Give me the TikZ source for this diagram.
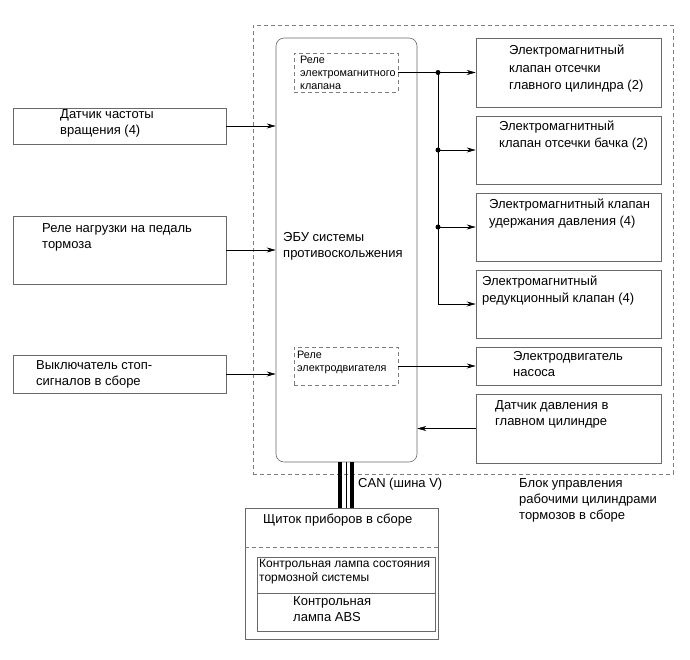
\documentclass[tikz,border=0pt]{standalone}
\usepackage{fontspec}
\setmainfont{Liberation Sans}
\usepackage{tikz}
\usetikzlibrary{arrows.meta, positioning, calc}
\definecolor{LineGray}{RGB}{105, 105, 105}
\definecolor{DashGray}{RGB}{125, 125, 125}

\tikzset{
  blk/.style={draw=LineGray, line width=0.6pt, inner sep=0pt},
  dashblk/.style={draw=DashGray, line width=0.6pt, dash pattern=on 4pt off 3pt, inner sep=0pt},
  lbl/.style={anchor=north west, inner sep=0pt, align=left, font=\fontsize{13}{16.5}\selectfont},
  lblsmall/.style={lbl, font=\fontsize{10.8}{13.3}\selectfont},
  lblmid/.style={lbl, font=\fontsize{12}{14}\selectfont},
  sig/.style={-{Stealth[length=9pt, width=5pt]}, line width=0.5pt},
  junct/.style={circle, fill=black, inner sep=0pt, minimum size=5pt}
}

\begin{document}
\begin{tikzpicture}[x=1pt, y=-1pt]
  \useasboundingbox (0,0) rectangle (690,659);

  % brake unit and ECU
  \node[dashblk, minimum width=420pt, minimum height=449pt] (unit) at (463,249.5) {};
  \node[blk, rounded corners=8pt, minimum width=141pt, minimum height=424pt] (ecu) at (346.5,250) {};
  \node[dashblk, minimum width=104pt, minimum height=39pt] (rel1) at (346,72.5) {};
  \node[dashblk, minimum width=104pt, minimum height=38pt] (rel2) at (346,366) {};

  % sensors on the left
  \node[blk, minimum width=213pt, minimum height=36pt] (spd) at (119.5,126) {};
  \node[blk, minimum width=213pt, minimum height=68pt] (pedal) at (119.5,250) {};
  \node[blk, minimum width=213pt, minimum height=38pt] (stop) at (119.5,374) {};

  % actuators on the right
  \node[blk, minimum width=185pt, minimum height=69pt] (vlv1) at (568.5,72.5) {};
  \node[blk, minimum width=185pt, minimum height=68pt] (vlv2) at (568.5,150) {};
  \node[blk, minimum width=185pt, minimum height=68pt] (vlv3) at (568.5,227) {};
  \node[blk, minimum width=185pt, minimum height=68pt] (vlv4) at (568.5,304) {};
  \node[blk, minimum width=185pt, minimum height=38pt] (pump) at (568.5,366) {};
  \node[blk, minimum width=185pt, minimum height=69pt] (prs) at (568.5,428.5) {};

  % instrument cluster
  \node[blk, minimum width=193pt, minimum height=131pt] (panel) at (341.5,573.5) {};
  \node[blk, minimum width=178pt, minimum height=74pt] (lamp) at (346,594) {};
  \coordinate (paneldiv) at (0,547);
  \coordinate (lampdiv) at (0,593);
  \draw[DashGray, line width=0.6pt, dash pattern=on 4pt off 3pt] (panel.west |- paneldiv) -- (panel.east |- paneldiv);
  \draw[LineGray, line width=0.6pt] (lamp.west |- lampdiv) -- (lamp.east |- lampdiv);

  % texts
  \node[lbl] (ecutxt) at (283,232) {ЭБУ системы\\противоскольжения};
  \node[lblsmall] (rel1txt) at (300,55.5) {Реле\\электромагнитного\\клапана};
  \node[lblsmall] (rel2txt) at (297,351) {Реле\\электродвигателя};
  \node[lbl] (spdtxt) at (60,109) {Датчик частоты\\вращения (4)};
  \node[lbl] (pedaltxt) at (42,223) {Реле нагрузки на педаль\\тормоза};
  \node[lbl] (stoptxt) at (36,360) {Выключатель стоп-\\сигналов в сборе};
  \node[lbl, font=\fontsize{13}{17.5}\selectfont] (vlv1txt) at (509,45) {Электромагнитный\\клапан отсечки\\главного цилиндра (2)};
  \node[lbl] (vlv2txt) at (499,121) {Электромагнитный\\клапан отсечки бачка (2)};
  \node[lbl] (vlv3txt) at (489,199) {Электромагнитный клапан\\удержания давления (4)};
  \node[lbl] (vlv4txt) at (482,276) {Электромагнитный\\редукционный клапан (4)};
  \node[lbl] (pumptxt) at (513,351) {Электродвигатель\\насоса};
  \node[lbl] (prstxt) at (495,400) {Датчик давления в\\главном цилиндре};
  \node[lbl] (cantxt) at (358,478) {CAN (шина V)};
  \node[lbl, font=\fontsize{13}{16}\selectfont] (unittxt) at (519,478) {Блок управления\\рабочими цилиндрами\\тормозов в сборе};
  \node[lbl] (paneltxt) at (263,514) {Щиток приборов в сборе};
  \node[lblmid] (lamp1txt) at (259,559) {Контрольная лампа состояния\\тормозной системы};
  \node[lbl] (lamp2txt) at (293,596) {Контрольная\\лампа ABS};

  % inputs to the ECU
  \draw[sig] (spd.east) -- (spd.east -| ecu.west);
  \draw[sig] (pedal.east) -- (pedal.east -| ecu.west);
  \draw[sig] (stop.east) -- (stop.east -| ecu.west);
  \draw[sig] (prs.west) -- (prs.west -| ecu.east);

  % outputs of the ECU
  \coordinate (busx) at (438,0);
  \node[junct] (j1) at (rel1.east -| busx) {};
  \node[junct] (j2) at (vlv2.west -| busx) {};
  \node[junct] (j3) at (vlv3.west -| busx) {};
  \draw[sig] (rel1.east) -- (vlv1.west);
  \draw[sig] (j1.center) |- (vlv4.west);
  \draw[sig] (j2.center) -- (vlv2.west);
  \draw[sig] (j3.center) -- (vlv3.west);
  \draw[sig] (rel2.east) -- (pump.west);

  % CAN bus
  \foreach \dx/\lw in {-6.5/4pt, -0.5/0.8pt, 5.5/4pt}
    \draw[line width=\lw] ([xshift=\dx pt]ecu.south) -- ([xshift=\dx pt]ecu.south |- panel.north);
\end{tikzpicture}
\end{document}
